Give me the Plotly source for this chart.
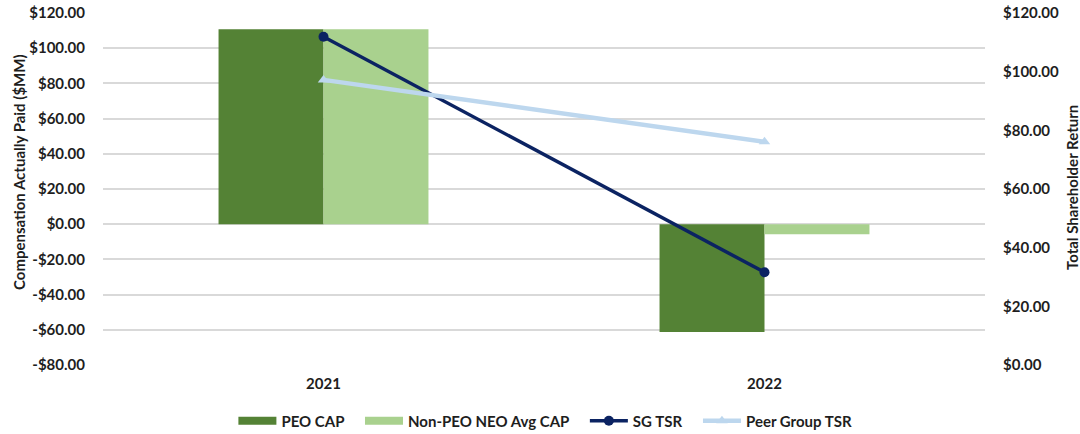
import plotly.graph_objects as go

years = ["2021", "2022"]
peo_cap = [110.8, -61.2]
non_peo_cap = [110.8, -5.7]
sg_tsr = [111.9, 31.6]
peer_tsr = [97.2, 76.1]

left_ticks = [-80, -60, -40, -20, 0, 20, 40, 60, 80, 100, 120]
right_ticks = [0, 20, 40, 60, 80, 100, 120]

PEO_GREEN = "#548235"
NEO_GREEN = "#A9D18E"
SG_NAVY = "#0B2362"
PEER_BLUE = "#BDD7EE"
TEXT = "#1E1E1E"
FONT = "Lato"
PAD = "\u00a0" * 3  # extra room after each legend label


def money(v):
    return ("-$" if v < 0 else "$") + f"{abs(v):.2f}"


tick_font = dict(family=FONT, size=15, color=TEXT, weight="bold")

fig = go.Figure()
fig.add_trace(go.Bar(x=years, y=peo_cap, name="PEO CAP", marker_color=PEO_GREEN,
                     marker_line_width=0, showlegend=False))
fig.add_trace(go.Bar(x=years, y=non_peo_cap, name="Non-PEO NEO Avg CAP",
                     marker_color=NEO_GREEN, marker_line_width=0, showlegend=False))
fig.add_trace(go.Scatter(x=years, y=sg_tsr, name="SG TSR", yaxis="y2",
                         mode="lines+markers", showlegend=False,
                         line=dict(color=SG_NAVY, width=3.5),
                         marker=dict(symbol="circle", size=10, color=SG_NAVY)))
fig.add_trace(go.Scatter(x=years, y=peer_tsr, name="Peer Group TSR", yaxis="y2",
                         mode="lines+markers", showlegend=False,
                         line=dict(color=PEER_BLUE, width=4.5),
                         marker=dict(symbol="triangle-up", size=10, color=PEER_BLUE)))

# legend keys: wide rectangles for the bar series, line+marker for the TSR series
legend_keys = [
    ("PEO CAP" + PAD, dict(color=PEO_GREEN, width=8), None),
    ("Non-PEO NEO Avg CAP" + PAD, dict(color=NEO_GREEN, width=8), None),
    ("SG TSR" + PAD, dict(color=SG_NAVY, width=3.5), dict(symbol="circle", size=10, color=SG_NAVY)),
    ("Peer Group TSR", dict(color=PEER_BLUE, width=4.5), dict(symbol="triangle-up", size=10, color=PEER_BLUE)),
]
for name, line, marker in legend_keys:
    fig.add_trace(go.Scatter(x=[None], y=[None], name=name,
                             mode="lines+markers" if marker else "lines",
                             line=line, marker=marker))

fig.update_layout(
    width=1080, height=434,
    margin=dict(l=103, r=95, t=13, b=69, autoexpand=False),
    plot_bgcolor="white", paper_bgcolor="white",
    barmode="group", bargap=0.524, bargroupgap=0,
    font=dict(family=FONT, size=14, color=TEXT),
    xaxis=dict(showgrid=False, showline=False, ticks="outside", ticklen=5,
               tickcolor="rgba(0,0,0,0)", tickfont=tick_font, automargin=False),
    yaxis=dict(range=[-80, 120], tickvals=left_ticks,
               ticktext=[money(v) for v in left_ticks],
               showgrid=True, gridcolor="#D9D9D9", gridwidth=1.5,
               zeroline=True, zerolinecolor="#D9D9D9", zerolinewidth=1.5,
               ticks="outside", ticklen=14, tickcolor="rgba(0,0,0,0)",
               tickfont=tick_font, automargin=False),
    yaxis2=dict(range=[0, 120], tickvals=right_ticks,
                ticktext=[money(v) for v in right_ticks],
                overlaying="y", side="right", showgrid=False, zeroline=False,
                ticks="outside", ticklen=14, tickcolor="rgba(0,0,0,0)",
                tickfont=tick_font, automargin=False),
    legend=dict(orientation="h", xref="container", yref="container",
                x=0.505, xanchor="center", y=0.03, yanchor="middle",
                font=dict(family=FONT, size=15, color=TEXT, weight="bold"),
                itemwidth=38, traceorder="normal"),
    annotations=[
        dict(text="Compensation Actually Paid ($MM)", textangle=-90,
             xref="paper", yref="paper", x=-103 / 882, y=1 - (172 - 13) / 352,
             xanchor="left", yanchor="middle", xshift=8, showarrow=False,
             font=dict(family=FONT, size=15, color=TEXT, weight="bold")),
        dict(text="Total Shareholder Return", textangle=-90,
             xref="paper", yref="paper", x=1 + 95 / 882, y=1 - (188 - 13) / 352,
             xanchor="right", yanchor="middle", xshift=3, showarrow=False,
             font=dict(family=FONT, size=15, color=TEXT, weight="bold")),
    ],
)

fig.write_html("out.html")
